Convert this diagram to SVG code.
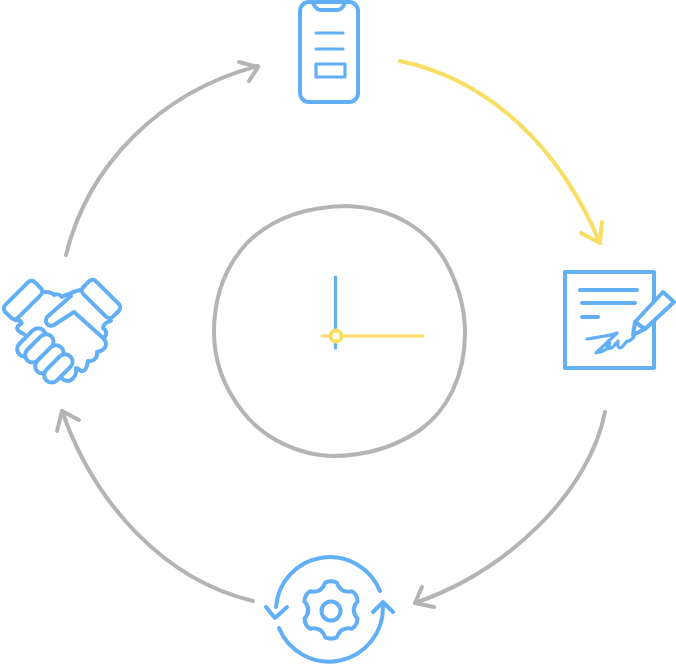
<svg xmlns="http://www.w3.org/2000/svg" width="676" height="667" viewBox="0 0 676 667">
<style>
.g{fill:none;stroke:#b4b4b4;stroke-width:4;stroke-linecap:round;stroke-linejoin:round}
.y{fill:none;stroke:#f8de63;stroke-width:4;stroke-linecap:round;stroke-linejoin:round}
.b{fill:none;stroke:#62aff6;stroke-width:4;stroke-linecap:round;stroke-linejoin:round}
.t{stroke-width:3.200}
.w{fill:#fff}
</style>
<rect width="676" height="667" fill="#fff"/>
<g id="connectors">
<path class="y" d="M400 61C490 80 560 148 600 243"/>
<path class="y" d="M581 233L600 243L602 222"/>
<path class="g" d="M605 412C590 490 510 570 415 603"/>
<path class="g" d="M422 587L415 603L434 607"/>
<path class="g" d="M253 601C165 580 95 505 62 411"/>
<path class="g" d="M57 431L62 411L79 420"/>
<path class="g" d="M66 255C88 165 160 92 258 66"/>
<path class="g" d="M239 62L258 67L249 81"/>
</g>
<g id="clock">
<path class="g" d="M345 206C395 207 432 232 449 268C460 290 465 312 465 333C465 375 448 410 420 430C395 447 365 456 332 456C300 455 265 440 243 412C224 388 214 360 214 332C214 300 224 268 247 243C272 218 305 207 345 206Z"/>
<path class="b t" d="M335.500 277V348"/>
<path class="y t" d="M322 336H423"/>
<circle class="y w" cx="336" cy="336" r="5.500"/>
</g>
<g id="phone">
<rect class="b" x="300" y="2" width="58" height="100" rx="9"/>
<path class="b" d="M313 3Q316 10 321 10H337Q342 10 345 3"/>
<path class="b t" d="M316 33H343M316 49H343"/>
<rect class="b t" x="316" y="64" width="29" height="13"/>
</g>
<g id="contract">
<rect class="b" x="565" y="272" width="89" height="96"/>
<path class="b" d="M580 290H637M582 303H635M582 317H598"/>
<path class="b w" d="M635 322L663 292L674 302L645 329L633 335Z"/>
<path class="b" d="M635 322L645 329"/>
<path class="b t" d="M587 339C598 337 610 336 617 333L596 353C603 352 612 348 609 341C605 350 608 350 613 347L618 341C617 349 620 349 623 346L627 341C628 342 631 340 634 337"/>
</g>
<g id="handshake">
<rect class="b" x="2" y="291" width="42" height="18" rx="5" transform="rotate(-45 23 300)"/>
<rect class="b" x="80" y="290" width="42" height="18" rx="5" transform="rotate(45 101 299)"/>
<path class="b" d="M15 320C20 320 23 322 21 324C15 327 16 331 24 334"/>
<path class="b" d="M45 292C50 292 54 294 54 295C58 293 60 295 62 297C66 294 70 295 73 292L80 290"/>
<path class="b" d="M71 296L47 317C44 322 48 328 54 325L60 321L74 312L103 338C108 343 107 350 97 352C98 358 93 362 88 361C87 368 85 372 81 371C79 369 78 368 76 368C77 374 74 379 69 381C64 381 62 379 61 377"/>
<path class="b" d="M111 321C106 322 103 325 103 328C106 330 108 333 104 338"/>
<rect class="b w" x="14" y="335" width="34" height="15" rx="7.500" transform="rotate(-45 31 342)"/>
<rect class="b w" x="22" y="341" width="34" height="15" rx="7.500" transform="rotate(-45 39 348)"/>
<rect class="b w" x="32" y="352" width="34" height="15" rx="7.500" transform="rotate(-45 49 359)"/>
<rect class="b w" x="41" y="361" width="34" height="15" rx="7.500" transform="rotate(-45 58 368)"/>
</g>
<g id="gear">
<path class="b" d="M276 607A54 54 0 0 1 380 591"/>
<path class="b" d="M279 628A54 54 0 0 0 383 607"/>
<path class="b" d="M266 607L275 618L287 607"/>
<path class="b" d="M373 612L383 602L393 612"/>
<path class="b" transform="translate(0 1)" d="M325.200 581.600Q331 579 336.800 581.600Q340.500 592.500 351.800 590.300Q357 593 357.600 600.300Q350 609 357.600 617.700Q357 625 351.800 627.700Q340.500 625.500 336.800 636.400Q331 639 325.200 636.400Q321.500 625.500 310.200 627.700Q305 625 304.400 617.700Q312 609 304.400 600.300Q305 593 310.200 590.300Q321.500 592.500 325.200 581.600Z"/>
<circle class="b" cx="331" cy="611" r="9.500"/>
</g>
</svg>
